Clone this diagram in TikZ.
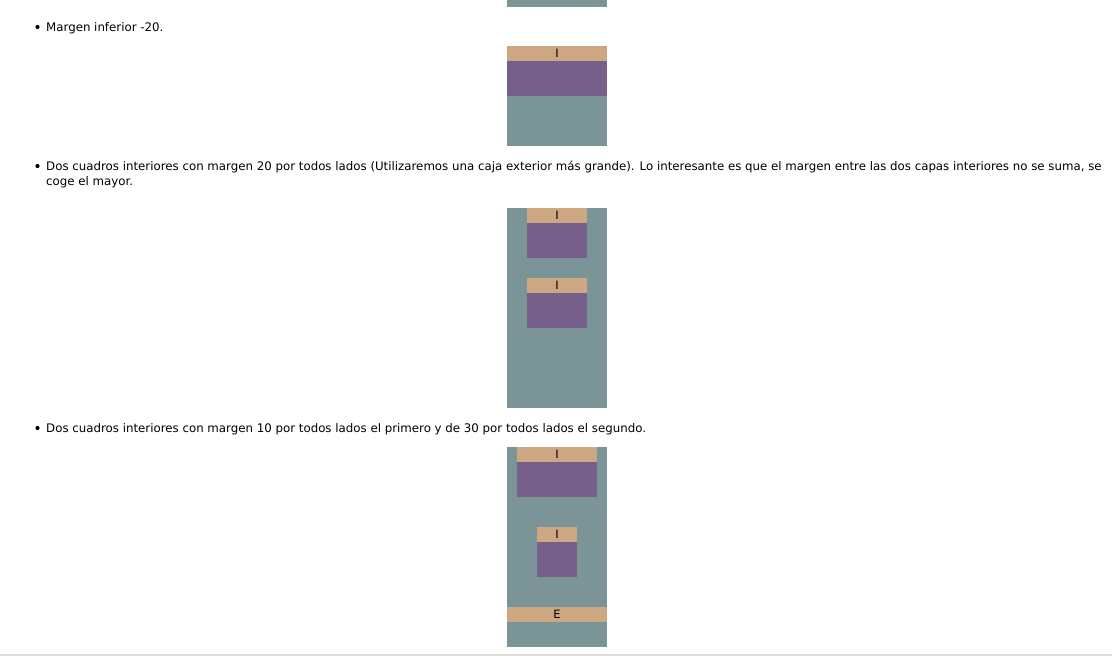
\documentclass[tikz,border=0pt]{standalone}
\usepackage{fontspec}
\setmainfont{DejaVu Sans}
\definecolor{outerc}{RGB}{122,148,151}
\definecolor{tanc}{RGB}{205,166,130}
\definecolor{purc}{RGB}{119,95,139}
\definecolor{rulec}{RGB}{224,221,217}
\tikzset{
  blk/.style={anchor=north west,inner sep=0pt,outer sep=0pt,draw=none},
  lbl/.style={anchor=base west,inner sep=0pt,font=\fontsize{11.8}{14}\selectfont},
  bul/.style={circle,fill=black,inner sep=0pt,minimum size=4.2pt},
  let/.style={font=\fontsize{11.5}{13}\selectfont,inner sep=0pt}
}
\newcommand{\blkbox}[6]{\node[blk,fill=#2,minimum width=#5pt,minimum height=#6pt] (#1) at (#3,#4) {};}
\begin{document}
\begin{tikzpicture}[x=1pt,y=-1pt]
\useasboundingbox (0,0) rectangle (1112,656);
\fill[rulec] (0,654) rectangle (1112,656);
% top remnant
\blkbox{g0}{outerc}{507}{0}{100}{7}
% item 1
\node[bul] (b1) at (37.5,27) {};
\node[lbl] (t1) at (46,31) {Margen inferior -20.};
\blkbox{g1}{outerc}{507}{46}{100}{100}
\blkbox{a1}{tanc}{507}{46}{100}{15}
\blkbox{p1}{purc}{507}{61}{100}{35}
\node[let] (l1) at (a1.center) {I};
% item 2
\node[bul] (b2) at (37.5,166) {};
\node[lbl] (t2a) at (46,170) {Dos cuadros interiores con margen 20 por todos lados (Utilizaremos una caja exterior más grande). Lo interesante es que el margen entre las dos capas interiores no se suma, se};
\node[lbl] (t2b) at (46,185) {coge el mayor.};
\blkbox{g2}{outerc}{507}{208}{100}{200}
\blkbox{a2}{tanc}{527}{208}{60}{15}
\blkbox{p2}{purc}{527}{223}{60}{35}
\node[let] (l2) at (a2.center) {I};
\blkbox{a3}{tanc}{527}{278}{60}{15}
\blkbox{p3}{purc}{527}{293}{60}{35}
\node[let] (l3) at (a3.center) {I};
% item 3
\node[bul] (b3) at (37.5,428) {};
\node[lbl] (t3) at (46,432) {Dos cuadros interiores con margen 10 por todos lados el primero y de 30 por todos lados el segundo.};
\blkbox{g3}{outerc}{507}{447}{100}{200}
\blkbox{a4}{tanc}{517}{447}{80}{15}
\blkbox{p4}{purc}{517}{462}{80}{35}
\node[let] (l4) at (a4.center) {I};
\blkbox{a5}{tanc}{537}{527}{40}{15}
\blkbox{p5}{purc}{537}{542}{40}{35}
\node[let] (l5) at (a5.center) {I};
\blkbox{a6}{tanc}{507}{607}{100}{15}
\node[let] (l6) at (a6.center) {E};
\end{tikzpicture}
\end{document}
